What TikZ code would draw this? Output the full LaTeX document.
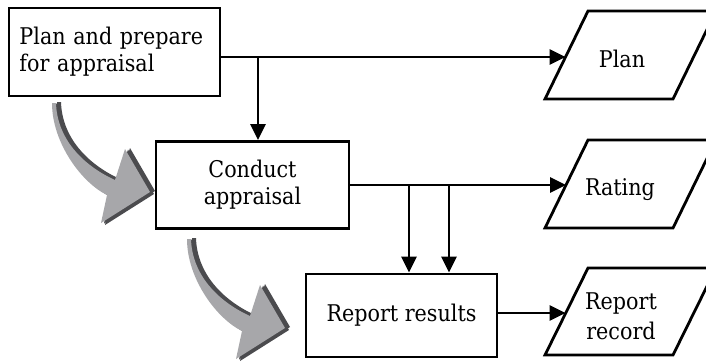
\documentclass[tikz,border=0pt]{standalone}
\usepackage{fontspec}
\setmainfont[FakeStretch=0.9]{DejaVu Serif}
\usetikzlibrary{arrows.meta,calc}
\definecolor{arrowlight}{HTML}{A7A7AA}
\definecolor{arrowdark}{HTML}{4B4B4E}
\begin{document}
\begin{tikzpicture}[x=1pt,y=-1pt,
  every node/.style={font=\fontsize{23}{27}\selectfont, inner sep=0pt},
  box/.style={draw, line width=2.8pt, align=center},
  para/.style={draw, line width=2.8pt, line join=miter},
  flow/.style={line width=2.8pt, -{Triangle[length=16pt,width=15pt]}},
  label/.style={align=center}]
\useasboundingbox (0,0) rectangle (706,362);

% shaded curved arrows: dark copies behind give the bevel on the right faces
\def\arrowoutline{(0,0) .. controls (0,40) and (30,80) .. (55,92) -- (49,120)
  -- (98,89) -- (73,46) -- (63,77) .. controls (30,62) and (5,35) .. (4,0) -- cycle}
\def\bigarrow#1{%
  \begin{scope}[shift={#1}]
    \fill[arrowdark, shift={(5,-1)}] \arrowoutline;
    \fill[arrowdark, shift={(4,2)}] \arrowoutline;
    \fill[arrowdark, shift={(3,0.5)}] \arrowoutline;
    \fill[arrowlight] \arrowoutline;
  \end{scope}}
\bigarrow{(52,103)}
\bigarrow{(187,239)}

% process boxes
\node[box, text width=190pt, inner xsep=10.5pt, minimum height=88pt, align=left]
  (b1) at (114.5,52) {Plan and prepare\\for appraisal};
\node[box, minimum width=193pt, minimum height=87pt] (b2) at (252.5,185)
  {Conduct\\appraisal};
\node[box, minimum width=191pt, minimum height=83pt] (b3) at (401.5,315.5)
  {Report results};

% output documents (parallelograms, running off the right edge)
\draw[para] (545,99) -- (588,11) -- (716,11) -- (673,99) -- cycle;
\draw[para] (545,228) -- (588,140) -- (716,140) -- (673,228) -- cycle;
\draw[para] (545,355) -- (588,268) -- (716,268) -- (673,355) -- cycle;
\node[anchor=base] (plan) at (622,67) {Plan};
\node[anchor=base] (rating) at (620,195) {Rating};
\node[label, font=\fontsize{23}{30}\selectfont] (record) at (621,316) {Report\\record};
\coordinate (planin) at (565.5,57);
\coordinate (ratingin) at (566,185);
\coordinate (recordin) at (565.5,313);

% connectors
\coordinate (j1) at (258,57);
\coordinate (j2) at (409,185);
\coordinate (j3) at (449,185);
\draw[flow] ($(b1.east)+(0,5)$) -- (planin);
\draw[flow] (j1) -- (j1 |- b2.north);
\draw[flow] (b2.east) -- (ratingin);
\draw[flow] (j2) -- (j2 |- b3.north);
\draw[flow] (j3) -- (j3 |- b3.north);
\draw[flow] ($(b3.east)+(0,-2.5)$) -- (recordin);
\end{tikzpicture}
\end{document}
